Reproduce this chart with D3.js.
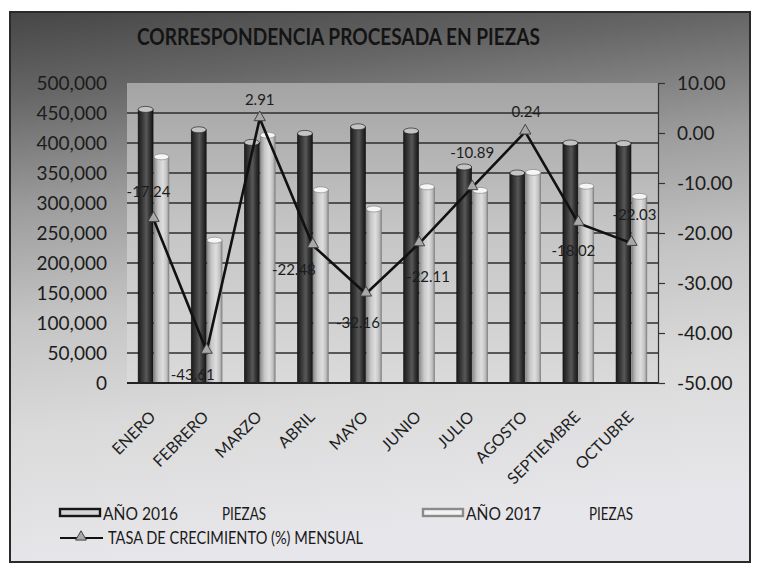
<!DOCTYPE html>
<html><head><meta charset="utf-8">
<script src="https://cdn.jsdelivr.net/npm/d3@7"></script>
<style>
body{margin:0;background:#fff}
svg{display:block}
text{font-family:Lato,"Open Sans",sans-serif}
</style>
</head><body>
<svg id="c" width="759" height="564"></svg>
<script>
// ---- data ----
const title = "CORRESPONDENCIA PROCESADA EN PIEZAS";
const categories = ["ENERO","FEBRERO","MARZO","ABRIL","MAYO","JUNIO","JULIO","AGOSTO","SEPTIEMBRE","OCTUBRE"];
const pieces2016 = [456000, 422000, 401000, 416000, 427000, 420000, 360000, 350000, 400000, 399000];
const pieces2017 = [377000, 238000, 413000, 322000, 290000, 327000, 321000, 351000, 328000, 311000];
const growthRate = [-17.24, -43.61, 2.91, -22.48, -32.16, -22.11, -10.89, 0.24, -18.02, -22.03];
const seriesNames = ["AÑO 2016", "AÑO 2017"];
const seriesUnit = "PIEZAS";
const lineName = "TASA DE CRECIMIENTO (%) MENSUAL";
const leftTicks = [0, 50000, 100000, 150000, 200000, 250000, 300000, 350000, 400000, 450000, 500000];
const rightTicks = [-50, -40, -30, -20, -10, 0, 10];

// ---- layout (label nudges, not data) ----
const labelNudge = [[-5,-28],[-14,23],[0,-19],[-19,24],[-8,28],[9,32],[0,-35],[1,-21],[-5,27],[3,-29]];

const svg = d3.select("#c");
const defs = svg.append("defs");
const m = {l:127, r:658, t:83, b:383};

// gradients
const bg = defs.append("linearGradient").attr("id","bg").attr("x1",0).attr("y1",0).attr("x2",0.15).attr("y2",1);
[[0,"#464646"],[0.15,"#666"],[0.35,"#9c9c9c"],[0.55,"#c4c4c4"],[0.75,"#dadada"],[1,"#e7e7eb"]]
  .forEach(([o,c])=>bg.append("stop").attr("offset",o).attr("stop-color",c));
const pg = defs.append("linearGradient").attr("id","pg").attr("x1",0).attr("y1",0).attr("x2",0).attr("y2",1);
[[0,"#a4a4a4"],[0.5,"#c6c6c6"],[1,"#dadada"]].forEach(([o,c])=>pg.append("stop").attr("offset",o).attr("stop-color",c));
const dg = defs.append("linearGradient").attr("id","dg");
[[0,"#1a1a1a"],[0.3,"#3a3a3a"],[0.55,"#585858"],[0.8,"#303030"],[1,"#161616"]].forEach(([o,c])=>dg.append("stop").attr("offset",o).attr("stop-color",c));
const lg = defs.append("linearGradient").attr("id","lg");
[[0,"#8e8e8e"],[0.3,"#c8c8c8"],[0.6,"#dedede"],[0.85,"#c0c0c0"],[1,"#8a8a8a"]].forEach(([o,c])=>lg.append("stop").attr("offset",o).attr("stop-color",c));

// frame
svg.append("rect").attr("x",10).attr("y",12).attr("width",740).attr("height",550)
  .attr("fill","url(#bg)").attr("stroke","#2a2a2a").attr("stroke-width",2);

// title
svg.append("text").attr("x",137).attr("y",45).attr("font-weight","bold").attr("font-size",23)
  .attr("fill","#141414").attr("textLength",403).attr("lengthAdjust","spacingAndGlyphs").text(title);

// scales
const x = d3.scaleBand().domain(categories).range([m.l, m.r]).padding(0);
const xs = d3.scaleBand().domain(seriesNames).range([x.step()*0.21, x.step()*0.79]).paddingInner(0.06);
const yL = d3.scaleLinear().domain([0, 500000]).range([m.b, m.t]);
const yR = d3.scaleLinear().domain([-50, 10]).range([m.b, m.t]);

// plot area
svg.append("rect").attr("x",m.l).attr("y",m.t).attr("width",m.r-m.l).attr("height",m.b-m.t).attr("fill","url(#pg)");

// gridlines
svg.append("g").selectAll("line").data(leftTicks.filter(d=>d>0 && d<500000)).join("line")
  .attr("x1",m.l).attr("x2",m.r).attr("y1",d=>yL(d)).attr("y2",d=>yL(d))
  .attr("stroke","#2e2e2e").attr("stroke-width",1.5);

// bars
const series = [
  {name: seriesNames[0], values: pieces2016, body:"url(#dg)", cap:"#c4c4c4", edge:"#111"},
  {name: seriesNames[1], values: pieces2017, body:"url(#lg)", cap:"#f6f6f6", edge:"#7a7a7a"}
];
series.forEach(s=>{
  const g = svg.append("g");
  const w = xs.bandwidth();
  g.selectAll("rect").data(categories).join("rect")
    .attr("x",(c)=>x(c)+xs(s.name)).attr("y",(c,i)=>yL(s.values[i]))
    .attr("width",w).attr("height",(c,i)=>yL(0)-yL(s.values[i]))
    .attr("fill",s.body).attr("stroke",s.edge).attr("stroke-width",0.6);
  g.selectAll("ellipse").data(categories).join("ellipse")
    .attr("cx",(c)=>x(c)+xs(s.name)+w/2).attr("cy",(c,i)=>yL(s.values[i]))
    .attr("rx",w/2).attr("ry",3).attr("fill",s.cap).attr("stroke",s.edge).attr("stroke-width",0.6);
});

// bottom axis line
svg.append("line").attr("x1",m.l).attr("x2",m.r).attr("y1",m.b).attr("y2",m.b).attr("stroke","#222").attr("stroke-width",2);

// left axis
const gL = svg.append("g").attr("transform",`translate(${m.l},0)`)
  .call(d3.axisLeft(yL).tickValues(leftTicks).tickFormat(d3.format(",")).tickSize(0).tickPadding(20));
gL.select(".domain").remove();
gL.selectAll("text").attr("font-size",19).attr("fill","#1c1c1c").attr("font-family","Lato, sans-serif");

// right axis
const fmtR = d => d3.format(".2f")(d).replace("\u2212","-");
const gR = svg.append("g").attr("transform",`translate(${m.r},0)`)
  .call(d3.axisRight(yR).tickValues(rightTicks).tickFormat(fmtR).tickSize(7).tickPadding(12));
gR.select(".domain").attr("stroke","#333").attr("stroke-width",1.2);
gR.selectAll(".tick line").attr("stroke","#333").attr("stroke-width",1.2);
gR.selectAll("text").attr("font-size",19).attr("fill","#1c1c1c").attr("font-family","Lato, sans-serif");

// category labels
svg.append("g").selectAll("text").data(categories).join("text")
  .attr("transform",c=>`translate(${x(c)+x.bandwidth()/2+3},418) rotate(-45)`)
  .attr("text-anchor","end").attr("font-size",16).attr("fill","#1e1e1e").text(c=>c);

// line
const cx = (i)=>x(categories[i])+x.bandwidth()/2;
const line = d3.line().x((d,i)=>cx(i)).y(d=>yR(d));
svg.append("path").datum(growthRate).attr("d",line).attr("fill","none").attr("stroke","#111").attr("stroke-width",2.6);
svg.append("g").selectAll("path").data(growthRate).join("path")
  .attr("d",d3.symbol(d3.symbolTriangle,55)).attr("transform",(d,i)=>`translate(${cx(i)},${yR(d)-1})`)
  .attr("fill","#a8a8a8").attr("stroke","#444").attr("stroke-width",1);

// data labels
const fmtL = d => d3.format(".2f")(d).replace("\u2212","-");
svg.append("g").selectAll("text").data(growthRate).join("text")
  .attr("x",(d,i)=>cx(i)+labelNudge[i][0]).attr("y",(d,i)=>yR(d)+labelNudge[i][1])
  .attr("text-anchor","middle").attr("dominant-baseline","central")
  .attr("font-size",15).attr("fill","#1c1c1c").text(fmtL);

// legend
const lgd = svg.append("g");
const legendItems = [
  {x:60, fill:"#d4d4d4", stroke:"#161616", name:seriesNames[0], nameW:75, unitX:222},
  {x:423, fill:"#f2f2f2", stroke:"#8a8a8a", name:seriesNames[1], nameW:75, unitX:589}
];
legendItems.forEach(it=>{
  lgd.append("rect").attr("x",it.x).attr("y",509).attr("width",40).attr("height",7)
    .attr("fill",it.fill).attr("stroke",it.stroke).attr("stroke-width",2.4);
  lgd.append("text").attr("x",it.x+43).attr("y",520).attr("font-size",17).attr("fill","#1a1a1a")
    .attr("textLength",it.nameW).attr("lengthAdjust","spacingAndGlyphs").text(it.name);
  lgd.append("text").attr("x",it.unitX).attr("y",520).attr("font-size",17).attr("fill","#1a1a1a")
    .attr("textLength",44).attr("lengthAdjust","spacingAndGlyphs").text(seriesUnit);
});
lgd.append("line").attr("x1",60).attr("x2",103).attr("y1",538).attr("y2",538).attr("stroke","#111").attr("stroke-width",2);
lgd.append("path").attr("d",d3.symbol(d3.symbolTriangle,50)).attr("transform","translate(81,537)")
  .attr("fill","#a8a8a8").attr("stroke","#444").attr("stroke-width",1);
lgd.append("text").attr("x",108).attr("y",544).attr("font-size",17).attr("fill","#1a1a1a")
  .attr("textLength",255).attr("lengthAdjust","spacingAndGlyphs").text(lineName);
</script>
</body></html>
